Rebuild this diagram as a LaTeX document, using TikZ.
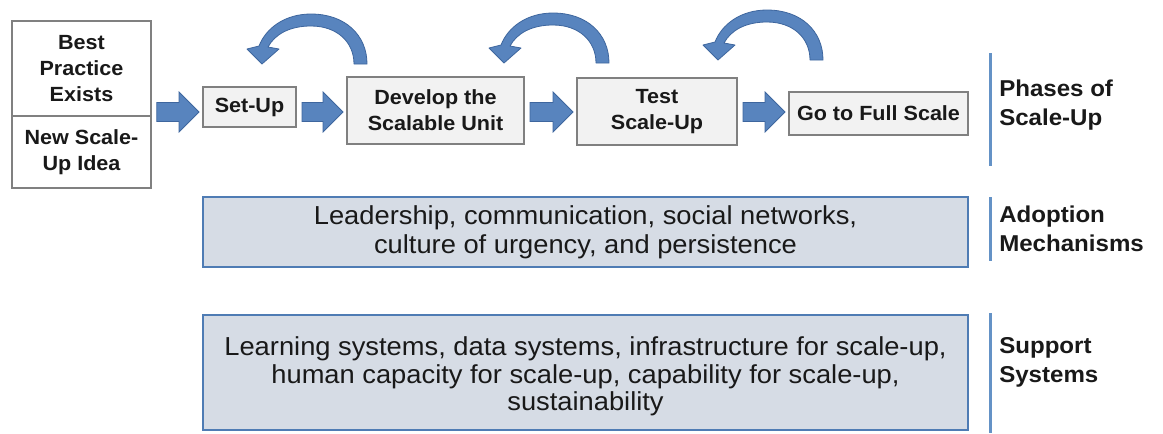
\documentclass[tikz,border=0pt]{standalone}
\usepackage{fontspec}
\setmainfont{Liberation Sans}[FakeStretch=1.05]
\usetikzlibrary{calc}
\definecolor{arrowblue}{RGB}{88,132,190}
\definecolor{arrowedge}{RGB}{62,102,158}
\definecolor{boxgray}{RGB}{128,128,128}
\definecolor{boxfill}{RGB}{242,242,242}
\definecolor{bandfill}{RGB}{214,220,229}
\definecolor{bandedge}{RGB}{79,124,180}
\definecolor{sepline}{RGB}{100,146,198}
\definecolor{txt}{RGB}{25,25,25}
\newcommand{\myloop}[2]{%
  \begin{scope}[shift={(#1,#2)}]
    \draw[curvearrow] (367,64) .. controls (367,35) and (345,14) .. (311,14)
      .. controls (285,14) and (266,28) .. (259,46) -- (247,49) -- (262,64)
      -- (279,49) -- (268,47) .. controls (275,34) and (290,26) .. (311,26)
      .. controls (337,26) and (354,42) .. (354,64) -- cycle;
  \end{scope}}
\newcommand{\blockarr}[2]{%
  \path (#1.east |- yarr) ++(5,0) coordinate (ba1);
  \path (#2.west |- yarr) ++(-3,0) coordinate (ba2);
  \draw[blockarrow] ($(ba1)+(0,-9.5)$) -- ($(ba2)+(-20,-9.5)$) -- ($(ba2)+(-20,-20)$)
    -- (ba2) -- ($(ba2)+(-20,20)$) -- ($(ba2)+(-20,9.5)$) -- ($(ba1)+(0,9.5)$) -- cycle;}
\begin{document}
\begin{tikzpicture}[x=0.75pt,y=-0.75pt,
  every node/.style={text=txt},
  cell/.style={draw=boxgray, line width=1.2pt, fill=white, inner sep=0pt, align=center,
    font=\fontsize{15.4}{19.5}\selectfont\bfseries},
  phase/.style={draw=boxgray, line width=1.5pt, fill=boxfill, inner sep=0pt, align=center,
    font=\fontsize{15.4}{19.5}\selectfont\bfseries},
  band/.style={draw=bandedge, line width=1.9pt, fill=bandfill, inner sep=0pt, align=center,
    minimum width={765*0.75pt}},
  lab/.style={anchor=west, inner sep=0pt, align=left,
    font=\fontsize{17.2}{21.75}\selectfont\bfseries},
  sep/.style={draw=sepline, line width=2.25pt},
  curvearrow/.style={fill=arrowblue, draw=arrowedge, line width=0.6pt, line join=round},
  blockarrow/.style={fill=arrowblue, draw=arrowedge, line width=0.6pt, line join=miter}]
\useasboundingbox (0,0) rectangle (1163,433);
\coordinate (yarr) at (0,112);

% left box (two cells)
\node[cell, minimum width={139*0.75pt}, minimum height={96*0.75pt}] (bp) at (81.5,69) {Best\\Practice\\Exists};
\node[cell, minimum width={139*0.75pt}, minimum height={72*0.75pt}] (ni) at (81.5,152) {New Scale-\\Up Idea};

% phases
\node[phase, minimum width={93*0.75pt}, minimum height={40*0.75pt}] (setup) at (249.5,107) {Set-Up};
\node[phase, minimum width={177*0.75pt}, minimum height={67*0.75pt}] (dev) at (435.5,110.5) {Develop the\\Scalable Unit};
\node[phase, minimum width={160*0.75pt}, minimum height={67*0.75pt}] (test) at (657,111.5) {Test\\Scale-Up};
\node[phase, minimum width={179*0.75pt}, minimum height={43*0.75pt}] (full) at (878.5,113.5) {Go to Full Scale};

% block arrows
\blockarr{bp}{setup}
\blockarr{setup}{dev}
\blockarr{dev}{test}
\blockarr{test}{full}

% curved feedback arrows
\myloop{0}{0}
\myloop{242}{-1}
\myloop{456}{-4}

% bands
\node[band, minimum height={70*0.75pt}, font=\fontsize{19.5}{21.75}\selectfont] (adopt) at (585.5,232)
  {Leadership, communication, social networks,\\culture of urgency, and persistence};
\node[band, minimum height={115*0.75pt}] (support) at (585.5,372.5) {};
\node[inner sep=0pt, align=center, font=\fontsize{19.5}{20.6}\selectfont] (supporttext) at (support.center)
  [yshift={-4*0.75pt}]
  {Learning systems, data systems, infrastructure for scale-up,\\human capacity for scale-up, capability for scale-up,\\sustainability};

% separators
\coordinate (s1a) at (990,53);  \coordinate (s1b) at (990,166);
\coordinate (s2a) at (990,197); \coordinate (s2b) at (990,261);
\coordinate (s3a) at (990,313); \coordinate (s3b) at (990,433);
\draw[sep] (s1a) -- (s1b);
\draw[sep] (s2a) -- (s2b);
\draw[sep] (s3a) -- (s3b);

% labels
\node[lab] (lphase) at (999,105) {Phases of\\Scale-Up};
\node[lab] (ladopt) at (999,229) {Adoption\\Mechanisms};
\node[lab] (lsupp) at (999,362) {Support\\Systems};
\end{tikzpicture}
\end{document}
